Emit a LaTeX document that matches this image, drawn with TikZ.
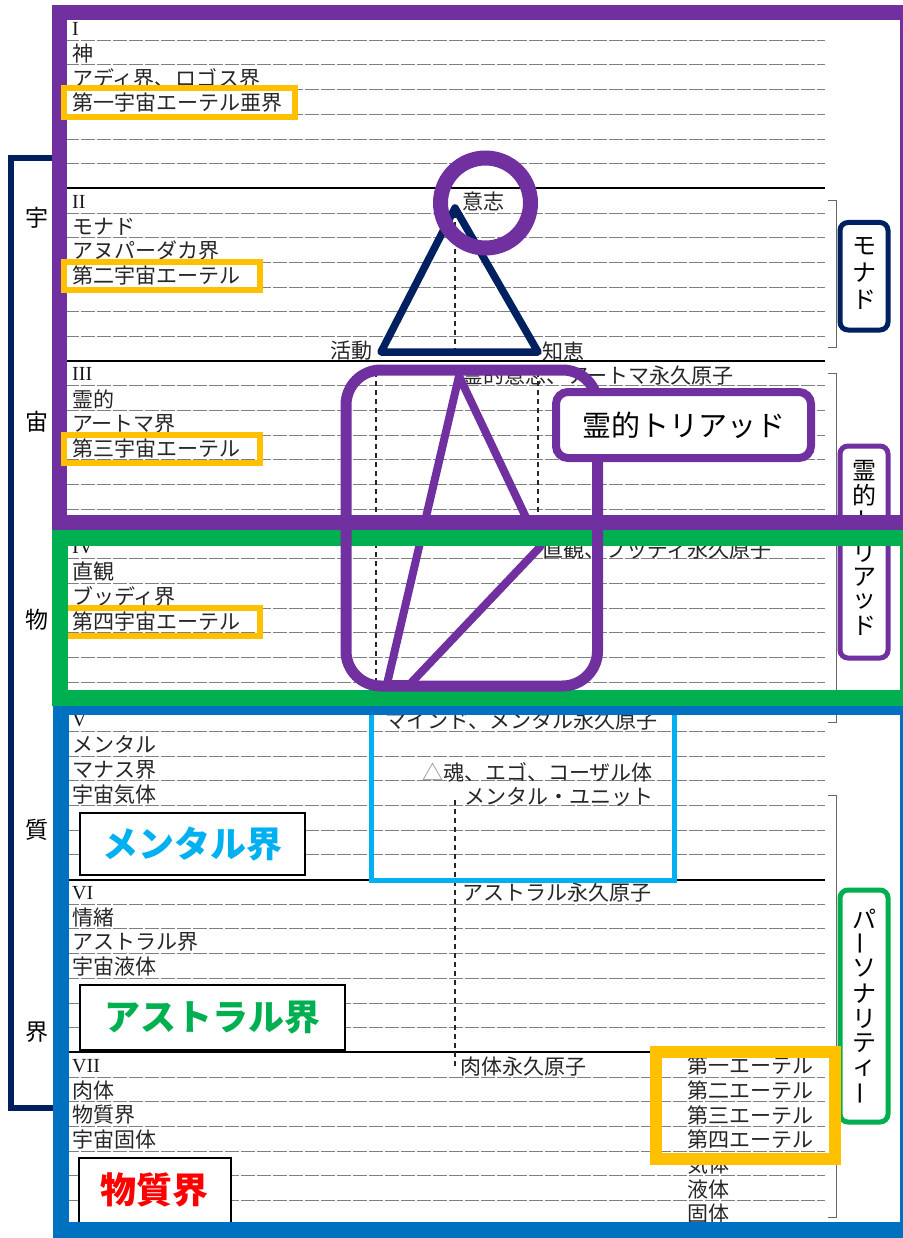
\documentclass[tikz,border=0pt]{standalone}
\usepackage{fontspec}
\setmainfont{Liberation Serif}
\newfontfamily\jp{Noto Sans CJK JP}
\definecolor{cpurple}{HTML}{7030A0}
\definecolor{cgreen}{HTML}{00B050}
\definecolor{cblue}{HTML}{0070C0}
\definecolor{cnavy}{HTML}{002060}
\definecolor{cyellow}{HTML}{FFC000}
\definecolor{clblue}{HTML}{00B0F0}
\definecolor{cred}{HTML}{FF0000}
\begin{document}
\begin{tikzpicture}[x=1pt,y=-1pt,
  doc/.style={font=\jp\fontsize{21}{21}\selectfont, text=black!85, anchor=west, inner sep=0pt},
  roman/.style={font=\fontsize{20}{20}\selectfont, text=black!90, anchor=west, inner sep=0pt},
  rule/.style={black!50, line width=0.8pt, dash pattern=on 14pt off 2pt},
  sectline/.style={black, line width=2pt},
  vdash/.style={black!85, line width=1.2pt, dash pattern=on 5pt off 4pt},
  brk/.style={black!60, line width=0.8pt},
  vchar/.style={font=\jp\fontsize{24}{24}\selectfont, inner sep=0pt},
  side/.style={font=\jp\fontsize{23}{23}\selectfont, inner sep=0pt},
  vbox/.style={line width=5pt, rounded corners=8pt, minimum width=48pt, inner sep=0pt},
  ybox/.style={cyellow, line width=6pt},
  label/.style={draw=black, line width=1.5pt, fill=white, inner sep=0pt, font=\jp\bfseries\fontsize{36}{36}\selectfont}
]
\useasboundingbox (0,0) rectangle (902,1238);
\fill[white] (0,0) rectangle (902,1238);

% ruled lines of the scanned page
\foreach \s in {0,...,6}{
  \foreach \r in {1,...,6}{
    \draw[rule] (65,{15.5+(\s*7+\r)*24.686}) -- (825,{15.5+(\s*7+\r)*24.686});
  }
}
\foreach \s in {1,...,6}{
  \draw[sectline] (65,{15.5+\s*7*24.686}) -- (825,{15.5+\s*7*24.686});
}

% left column texts
\foreach \s/\a/\b/\c/\d in {0/I/神/アディ界、ロゴス界/第一宇宙エーテル亜界,1/II/モナド/アヌパーダカ界/第二宇宙エーテル,2/III/霊的/アートマ界/第三宇宙エーテル,3/IV/直観/ブッディ界/第四宇宙エーテル,4/V/メンタル/マナス界/宇宙気体,5/VI/情緒/アストラル界/宇宙液体,6/VII/肉体/物質界/宇宙固体}{
  \node[roman] (num\s) at (72,{15.5+(7*\s+0.5)*24.686+1}) {\a};
  \node[doc] (ta\s) at (72,{15.5+(7*\s+1.5)*24.686+1}) {\b};
  \node[doc] (tb\s) at (72,{15.5+(7*\s+2.5)*24.686+1}) {\c};
  \node[doc] (tc\s) at (72,{15.5+(7*\s+3.5)*24.686+1}) {\d};
}

% middle texts
\node[doc] (will) at (462,201) {意志};
\node[doc, anchor=east] (act) at (373,351) {活動};
\node[doc] (wis) at (542,351) {知恵};
\node[doc] (atma) at (462,376) {霊的意志、アートマ永久原子};
\node[doc] (budd) at (542,549) {直観、ブッディ永久原子};
\node[doc] (mind) at (385,721) {マインド、メンタル永久原子};
\node[doc] (soul) at (422,772) {\textcolor{black!45}{△}魂、エゴ、コーザル体};
\node[doc] (munit) at (464,797) {メンタル・ユニット};
\node[doc] (astra) at (462,893) {アストラル永久原子};
\node[doc] (phys) at (460,1067) {肉体永久原子};
\foreach \i/\t in {0/第一エーテル,1/第二エーテル,2/第三エーテル,3/第四エーテル,4/気体,5/液体,6/固体}{
  \node[doc] (eth\i) at (687,{15.5+(42+\i+0.5)*24.686+1}) {\t};
}

% dashed verticals and brackets
\draw[vdash] (455,213) -- (455,350);
\draw[vdash] (376,372) -- (376,686);
\draw[vdash] (538,372) -- (538,525);
\draw[vdash] (455,800) -- (455,1066);
\draw[brk] (828,200) -- (836,200) -- (836,347) -- (828,347);
\draw[brk] (828,373) -- (836,373) -- (836,722) -- (828,722);
\draw[brk] (828,795) -- (836,795) -- (836,1217) -- (828,1217);
\draw[black, line width=1pt] (456,378) -- (384,688);

% left navy bracket
\draw[cnavy, line width=6pt] (60,158) -- (11,158) -- (11,1108) -- (60,1108);
\node[side] (u1) at (37,218) {宇};
\node[side] (u2) at (37,422) {宙};
\node[side] (u3) at (37,620) {物};
\node[side] (u4) at (37,830) {質};
\node[side] (u5) at (37,1032) {界};

% right vertical label boxes
\node[vbox, draw=cnavy, minimum height=107.5pt] (monadbox) at (864,276.25) {};
\foreach \c/\y [count=\i] in {モ/246,ナ/273,ド/300}{
  \node[vchar] (mo\i) at (864,\y) {\c};
}
\node[vbox, draw=cpurple, minimum height=212pt] (triadv) at (864,552) {};
\foreach \c/\y [count=\i] in {霊/471,的/495,ト/521,リ/553,ア/577,ッ/601,ド/626}{
  \node[vchar] (tr\i) at (864,\y) {\c};
}
\node[vbox, draw=cgreen, minimum height=232pt] (persbox) at (864,1006) {};
\foreach \c/\y [count=\i] in {パ/918.5,ソ/968.5,ナ/993.5,リ/1018.5,テ/1043.5,ィ/1068.5}{
  \node[vchar] (pe\i) at (864,\y) {\c};
}
\node[vchar, rotate=90] (peA) at (864,943.5) {ー};
\node[vchar, rotate=90] (peB) at (864,1093.5) {ー};

% navy triangle
\coordinate (apex) at (455,208);
\coordinate (bl) at (381,352);
\coordinate (br) at (538,352);
\draw[cnavy, line width=7.5pt, line join=round] (apex) -- (bl) -- (br) -- cycle;

% purple triad triangle
\coordinate (tA) at (459,376);
\coordinate (tB) at (540,547);
\coordinate (tC) at (410,684);
\coordinate (tD) at (387,684);
\draw[cpurple, line width=8pt, line join=round] (tA) -- (tB) -- (tC) -- (tD) -- cycle;

% light blue box and material label box (under the blue frame)
\draw[clblue, line width=5pt] (371,700) -- (371,880.5) -- (674,880.5) -- (674,700);
\node[label, minimum width=152pt, minimum height=84pt] (matbox) at (155,1200) {};
\node[font=\jp\bfseries\fontsize{36}{36}\selectfont, text=cred, inner sep=0pt] (mattxt) at (154,1190) {物質界};

% frames
\draw[cblue, line width=16pt] (61,707) rectangle (908,1230);
\draw[ybox] (63.5,607.6) rectangle (259.5,635.6);
\draw[cgreen, line width=16pt] (60,538) rectangle (908,697.5);
\draw[cpurple, line width=15pt] (59.5,13) rectangle (907.5,522.5);

% yellow boxes
\draw[ybox] (63.5,88) rectangle (294.5,117.5);
\draw[ybox] (63.5,262) rectangle (259.5,290);
\draw[ybox] (63.5,434.8) rectangle (259.5,462.8);
\draw[cyellow, line width=12pt] (655.5,1051.5) rectangle (835,1158.5);

% triad rounded box and circle
\draw[cpurple, line width=11pt, rounded corners=35pt] (346,370) rectangle (597.5,686);
\draw[cpurple, line width=15pt] (485.5,203) circle[radius=45pt];

% labels
\node[draw=cpurple, line width=8pt, rounded corners=12pt, fill=white, inner sep=0pt,
      minimum width=255pt, minimum height=66pt, font=\jp\fontsize{29}{29}\selectfont] (triadlbl) at (683.5,425) {霊的トリアッド};
\node[label, text=clblue, minimum width=225pt, minimum height=62pt] (mental) at (192.5,844) {メンタル界};
\node[label, text=cgreen, minimum width=265pt, minimum height=65pt] (astral) at (212.5,1017.5) {アストラル界};
\end{tikzpicture}
\end{document}
